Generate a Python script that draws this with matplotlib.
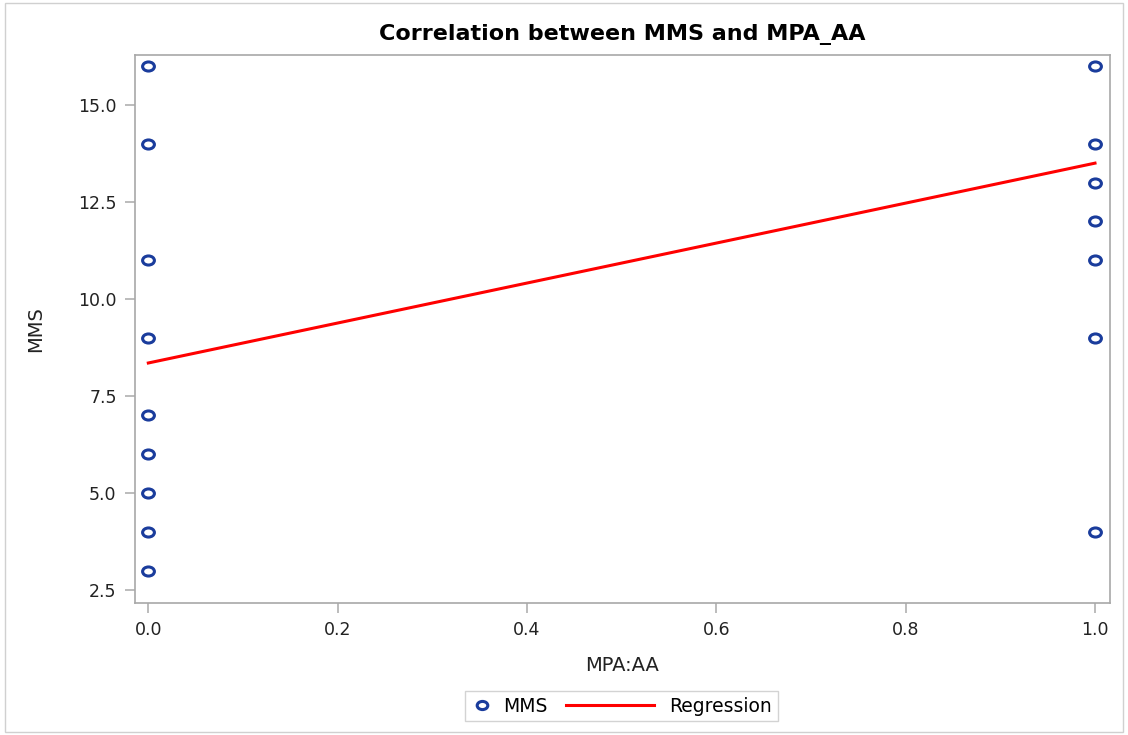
import matplotlib
matplotlib.use('Agg')
import matplotlib.pyplot as plt
from matplotlib.patches import Rectangle
from matplotlib.path import Path
from matplotlib.transforms import Affine2D
from matplotlib.legend_handler import HandlerLine2D

# MPA_AA group (0/1) and the MMS values
mpa_aa = [0, 0, 0, 0, 0, 0, 0, 0, 0,
          1, 1, 1, 1, 1, 1, 1]
mms = [16, 14, 11, 9, 7, 6, 5, 4, 3,
       16, 14, 13, 12, 11, 9, 4]

# fitted regression line end points
reg_x = [0, 1]
reg_y = [8.35, 13.5]

plt.rcParams['font.family'] = ['DejaVu Sans']

# the original picture is a bit stretched sideways, so the circles are ellipses
oval = Path.unit_circle().transformed(Affine2D().scale(1.3, 1.0))


class LongLine(HandlerLine2D):
    # regression key drawn longer than the marker key
    def create_artists(self, legend, orig_handle, xdescent, ydescent,
                       width, height, fontsize, trans):
        arts = super().create_artists(legend, orig_handle, xdescent, ydescent,
                                      width, height, fontsize, trans)
        for a in arts:
            xd = list(a.get_xdata())
            if len(xd) >= 2:
                xd[0] = xd[0] - 3.8 * fontsize
                xd[-1] = xd[-1] - 0.3 * fontsize
                a.set_xdata(xd)
        return arts


fig = plt.figure(figsize=(11.28, 7.35), dpi=100)
ax = fig.add_axes([0.1194, 0.1796, 0.8646, 0.7452])

pts, = ax.plot(mpa_aa, mms, linestyle='none', marker=oval, markersize=8.5,
               markerfacecolor='none', markeredgecolor='#1a3c9c',
               markeredgewidth=2.2, zorder=3, label='MMS')
reg, = ax.plot(reg_x, reg_y, color='#ff0000', lw=2.2, zorder=2, label='Regression')

ax.set_xlim(-0.0144, 1.0158)
ax.set_ylim(2.165, 16.28)
ax.set_xticks([0.0, 0.2, 0.4, 0.6, 0.8, 1.0])
ax.set_yticks([2.5, 5.0, 7.5, 10.0, 12.5, 15.0])
ax.set_xticklabels(['0.0', '0.2', '0.4', '0.6', '0.8', '1.0'])
ax.set_yticklabels(['2.5', '5.0', '7.5', '10.0', '12.5', '15.0'])

for s in ax.spines.values():
    s.set_color('#a8a8a8')
    s.set_linewidth(1.2)
ax.tick_params(direction='out', length=7, width=1.2, color='#b0b0b0',
               labelsize=12.5, labelcolor='#222222', pad=6)

ax.set_xlabel('MPA:AA', fontsize=14, color='#222222', labelpad=12)
ax.set_ylabel('MMS', fontsize=14, color='#222222', labelpad=24)
ax.set_title('Correlation between MMS and MPA_AA', fontsize=16,
             fontweight='bold', pad=11)

leg = fig.legend(handles=[pts, reg], loc='center', bbox_to_anchor=(0.551, 0.039),
                 ncol=2, fontsize=13.5, frameon=True, fancybox=False,
                 handlelength=1.2, columnspacing=4.8, handletextpad=0.5,
                 borderpad=0.3, borderaxespad=0.3, markerscale=0.9,
                 handler_map={reg: LongLine()})
leg.get_frame().set_edgecolor('#c8c8c8')
leg.get_frame().set_linewidth(1.0)

# light border around the whole picture
fig.patches.append(Rectangle((0.004, 0.004), 0.992, 0.992, transform=fig.transFigure,
                             fill=False, edgecolor='#d0d0d0', lw=1.0))

fig.savefig('out.png', dpi=100)
